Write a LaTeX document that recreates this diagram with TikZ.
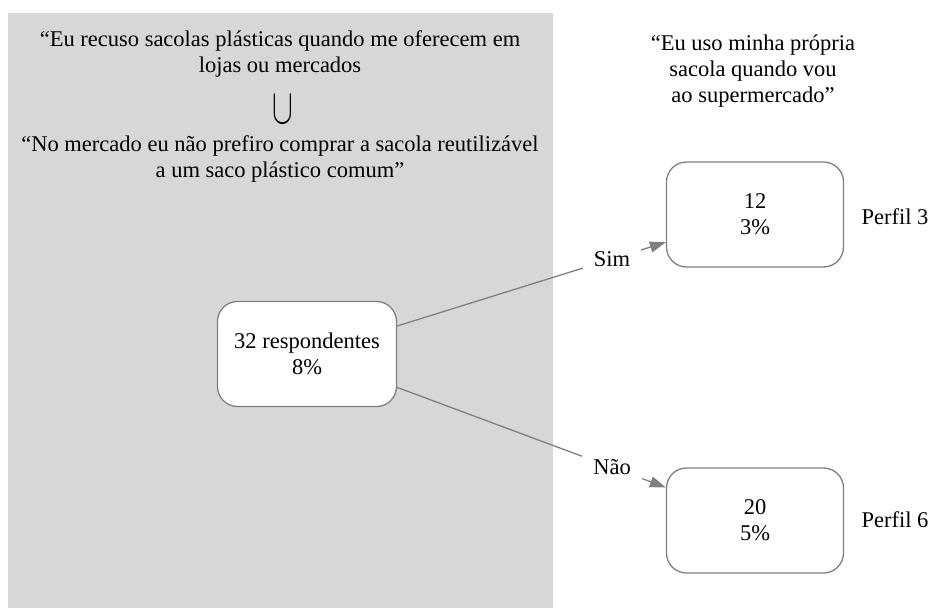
\documentclass[tikz,border=0pt]{standalone}
\usepackage{fontspec}
\setmainfont{Liberation Serif}
\usetikzlibrary{arrows.meta}
\definecolor{panelgray}{RGB}{215,215,215}
\definecolor{linegray}{RGB}{128,128,128}
\tikzset{
  every node/.style={font=\fontsize{22.5}{26}\selectfont},
  headtext/.style={align=center},
  answerbox/.style={draw=linegray, line width=1.3pt, rounded corners=20pt, fill=white,
    minimum width=177pt, minimum height=105pt, align=center},
  link/.style={draw=linegray, line width=1.3pt, -{Triangle[length=16pt,width=11pt]}},
  linklabel/.style={fill=white, inner xsep=11pt, inner ysep=6pt, pos=0.8}
}
\begin{document}
\begin{tikzpicture}[x=1pt,y=-1pt]
  \useasboundingbox (0,0) rectangle (930,608);
  \fill[panelgray] (8,13) rectangle (553,608);
  \node[headtext] (q1) at (280,54) {“Eu recuso sacolas plásticas quando me oferecem em\\lojas ou mercados};
  \node (cup) at (283,110) {\scalebox{1.5}[2.4]{$\cup$}};
  \node[headtext] (q2) at (280,159) {“No mercado eu não prefiro comprar a sacola reutilizável\\a um saco plástico comum”};
  \node[headtext] (q3) at (753,71) {“Eu uso minha própria\\sacola quando vou\\ao supermercado”};
  \node[answerbox, minimum width=179pt] (resp) at (307,354) {32 respondentes\\8\%};
  \node[answerbox] (sim) at (755,214.5) {12\\3\%};
  \node[answerbox] (nao) at (755,520.5) {20\\5\%};
  \node (perfil3) at (895,217) {Perfil 3};
  \node (perfil6) at (895,520) {Perfil 6};
  \begin{scope}[link]
    \draw (resp) -- node[linklabel] {Sim} (sim);
    \draw (resp) -- node[linklabel] {Não} (nao);
  \end{scope}
\end{tikzpicture}
\end{document}
